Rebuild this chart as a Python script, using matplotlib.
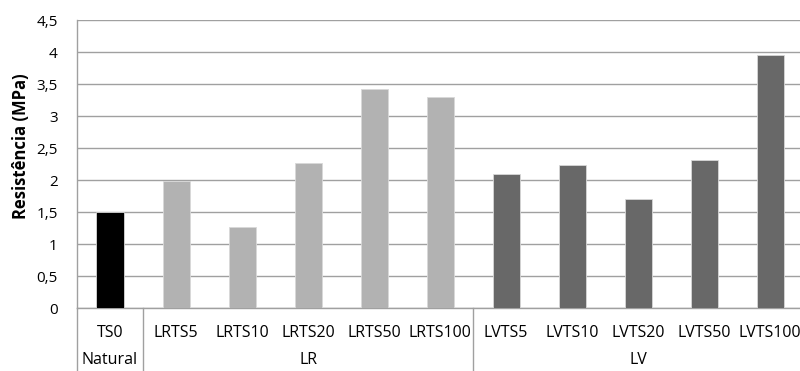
import numpy as np
import matplotlib.pyplot as plt
import matplotlib.transforms as mtransforms

# Strength of each sample, grouped by treatment
categories = ['TS0', 'LRTS5', 'LRTS10', 'LRTS20', 'LRTS50', 'LRTS100',
              'LVTS5', 'LVTS10', 'LVTS20', 'LVTS50', 'LVTS100']
values = [1.50, 1.98, 1.27, 2.27, 3.42, 3.30, 2.09, 2.23, 1.71, 2.32, 3.96]
groups = ['Natural', 'LR', 'LV']
group_sizes = [1, 5, 5]
group_colors = ['#000000', '#b2b2b2', '#686868']
yticks = [0, 0.5, 1, 1.5, 2, 2.5, 3, 3.5, 4, 4.5]

plt.rcParams['font.family'] = ['Open Sans', 'DejaVu Sans']

fig = plt.figure(figsize=(8, 3.71), dpi=100)
ax = fig.add_axes([77 / 800, 1 - 308 / 371, 723 / 800, 288 / 371])

bar_colors = []
for c, n in zip(group_colors, group_sizes):
    bar_colors += [c] * n

x = np.arange(len(categories))
ax.bar(x, values, width=0.41, color=bar_colors, edgecolor='#d8d8d8',
       linewidth=0.6, zorder=3)

ax.set_xlim(-0.5, 10.45)
ax.set_ylim(0, 4.5)
ax.set_yticks(yticks)
ax.set_yticklabels([f'{t:g}'.replace('.', ',') for t in yticks], fontsize=11)
ax.yaxis.grid(True, color='#a0a0a0', linewidth=1.0, zorder=0)
ax.tick_params(axis='y', length=0, pad=14, colors='#000000')
ax.tick_params(axis='x', length=0, pad=12)

for side in ['top', 'right']:
    ax.spines[side].set_visible(False)
for side in ['left', 'bottom']:
    ax.spines[side].set_color('#a0a0a0')
    ax.spines[side].set_linewidth(1.0)

ax.set_xticks(x)
ax.set_xticklabels(categories, fontsize=11.5)

# Second level of the category axis: group names and separators
trans = mtransforms.blended_transform_factory(ax.transData, ax.transAxes)
start = 0
bounds = [-0.5]
for g, n in zip(groups, group_sizes):
    center = start + (n - 1) / 2
    ax.text(center, -56 / 288, g, transform=trans, ha='center',
            va='baseline', fontsize=11.5)
    start += n
    bounds.append(start - 0.5)
for b in bounds[:-1]:
    ax.plot([b, b], [0, -63 / 288], transform=trans, color='#a0a0a0',
            linewidth=1.0, clip_on=False)

fig.text(21 / 800, 1 - 146 / 371, 'Resistência (MPa)', rotation=90,
         ha='center', va='center', fontsize=12, fontweight='bold')

fig.savefig('out.png', dpi=100)
